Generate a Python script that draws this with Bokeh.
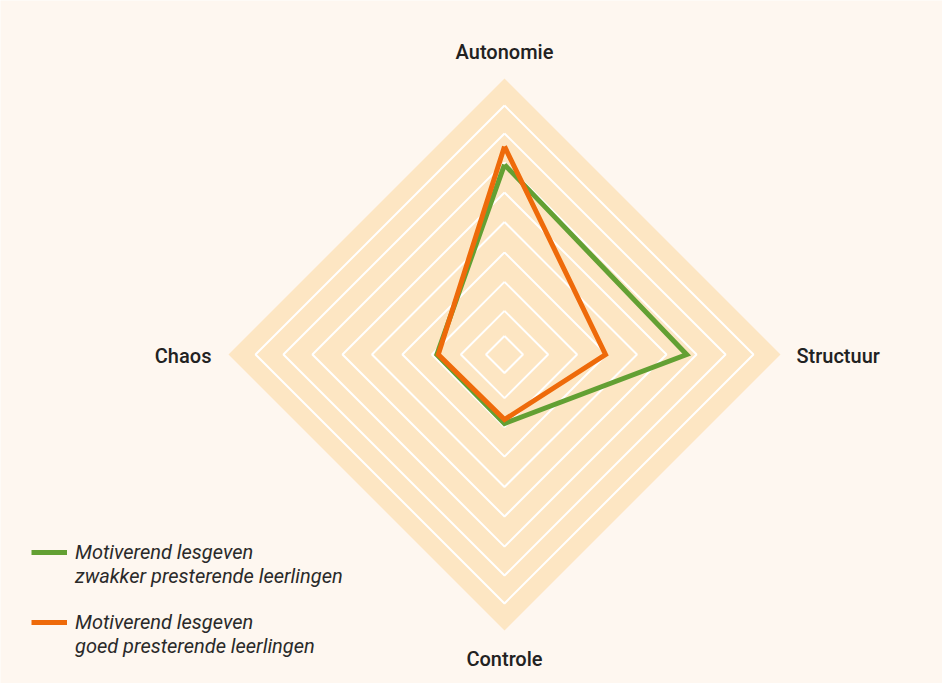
import math
from bokeh.plotting import figure
from bokeh.models import Range1d, Legend, LegendItem, ColumnDataSource
from bokeh.core.properties import value
from bokeh.embed import file_html
from bokeh.resources import INLINE

# ---- data ----
axes_names = ["Autonomie", "Structuur", "Controle", "Chaos"]
axes_angles = [90, 0, -90, 180]
zwakker = [6.88, 6.60, 2.50, 2.45]
goed = [7.54, 3.66, 2.36, 2.40]
ring_levels = [0.67, 1.58, 2.63, 3.70, 4.80, 5.87, 6.96, 8.01, 9.02]
scale_max = 10
series_line1 = ["Motiverend lesgeven", "Motiverend lesgeven"]
series_line2 = ["zwakker presterende leerlingen", "goed presterende leerlingen"]

# ---- styles ----
BG = "#fef7f0"
FILL = "#fde6c3"
GREEN = "#63a033"
ORANGE = "#ee6a0a"
TEXT = "#222222"
W, H = 942, 683
PX = 27.6              # pixels per unit
CX, CY = 504, 354      # centre in screen px (from top-left)


def polygon(vals):
    xs = [v * math.cos(math.radians(a)) for v, a in zip(vals, axes_angles)]
    ys = [v * math.sin(math.radians(a)) for v, a in zip(vals, axes_angles)]
    return xs + xs[:1], ys + ys[:1]


p = figure(width=W, height=H, output_backend="svg", toolbar_location=None,
           x_range=Range1d(-CX / PX, (W - CX) / PX),
           y_range=Range1d(-(H - CY) / PX, CY / PX),
           min_border=0, background_fill_color=BG, border_fill_color=BG,
           outline_line_color=None)
p.axis.visible = False
p.grid.visible = False

ox, oy = polygon([scale_max] * len(axes_names))
p.patch(ox, oy, fill_color=FILL, line_color=None)

ring_xs, ring_ys = [], []
for lv in ring_levels:
    x, y = polygon([lv] * len(axes_names))
    ring_xs.append(x)
    ring_ys.append(y)
p.multi_line(ring_xs, ring_ys, line_color="white", line_width=2)

gx, gy = polygon(zwakker)
r_green = p.line(gx, gy, line_color=GREEN, line_width=5, line_join="miter")
qx, qy = polygon(goed)
r_orange = p.line(qx, qy, line_color=ORANGE, line_width=5, line_join="miter")

lab = ColumnDataSource(dict(
    x=[scale_max * math.cos(math.radians(a)) for a in axes_angles],
    y=[scale_max * math.sin(math.radians(a)) for a in axes_angles],
    text=axes_names,
    xo=[0, 16, 0, -17],
    yo=[-27, 1, 28, 1],
    align=["center", "left", "center", "right"],
))
p.text("x", "y", text="text", source=lab, x_offset="xo", y_offset="yo",
       text_align="align", text_baseline="middle",
       text_font=value("Roboto Medium"), text_font_size="20px", text_color=TEXT)


def make_legend(renderer, l1, l2, loc):
    return Legend(items=[LegendItem(label=l1, renderers=[renderer]),
                         LegendItem(label=l2, renderers=[])],
                  location=loc, orientation="vertical",
                  glyph_width=36, glyph_height=24, label_height=24,
                  label_standoff=8, spacing=0, padding=0, margin=0,
                  label_text_font="Roboto", label_text_font_style="italic",
                  label_text_font_size="20px", label_text_color="#2a2a2a",
                  background_fill_alpha=0, border_line_alpha=0)


p.add_layout(make_legend(r_green, series_line1[0], series_line2[0], (31, 95)))
p.add_layout(make_legend(r_orange, series_line1[1], series_line2[1], (31, 25)))

open("out.html", "w").write(file_html(p, INLINE))
